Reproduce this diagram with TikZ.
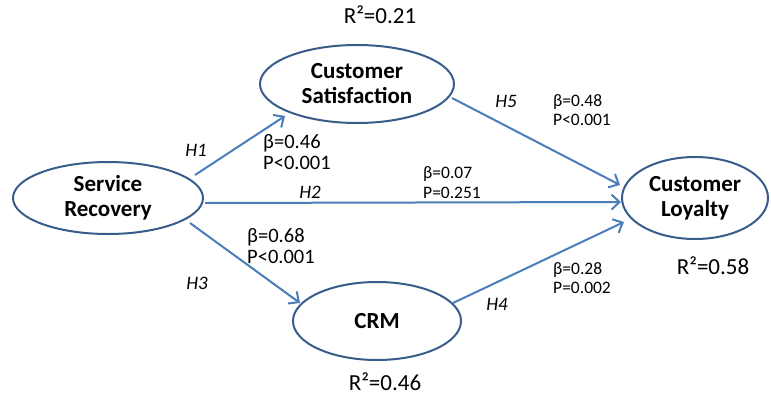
\documentclass[tikz,border=0pt]{standalone}
\usepackage{fontspec}
\setmainfont{Carlito}
\usetikzlibrary{arrows.meta,shapes.geometric}
\definecolor{edgeblue}{RGB}{74,126,187}
\definecolor{ringblue}{RGB}{56,93,138}
\begin{document}
\begin{tikzpicture}[x=1pt,y=-1pt,
  construct/.style={ellipse, draw=ringblue, line width=2pt, align=center, inner sep=0pt,
    font=\fontsize{23}{25}\selectfont\bfseries},
  pathline/.style={draw=edgeblue, line width=2pt, -{Straight Barb[length=8pt,width=15pt]}},
  coefbig/.style={anchor=west, inner sep=0pt, align=left, font=\fontsize{20.5}{21}\selectfont},
  coefsmall/.style={anchor=west, inner sep=0pt, align=left, font=\fontsize{17.5}{19.5}\selectfont},
  hyp/.style={inner sep=0pt, font=\fontsize{19}{21}\selectfont\itshape},
  rsq/.style={inner sep=0pt, font=\fontsize{23}{25}\selectfont}]
\useasboundingbox[fill=white] (0,0) rectangle (771,397);

\node[construct, minimum width=190pt, minimum height=72pt] (sr) at (108,198) {Service\\Recovery};
\node[construct, minimum width=194pt, minimum height=78pt] (cs) at (357,84) {Customer\\Satisfaction};
\node[construct, minimum width=146pt, minimum height=82pt] (cl) at (695,198) {Customer\\Loyalty};
\node[construct, minimum width=168pt, minimum height=78pt] (crm) at (377,321) {CRM};

\draw[pathline] ([shift={(87,-23)}]sr.center) -- ([shift={(-72,32)}]cs.center);
\draw[pathline] ([shift={(97,5)}]sr.center) -- ([shift={(-74,4)}]cl.center);
\draw[pathline] ([shift={(82,25)}]sr.center) -- ([shift={(-77,-18)}]crm.center);
\draw[pathline] ([shift={(95,14)}]cs.center) -- ([shift={(-75,-13)}]cl.center);
\draw[pathline] ([shift={(76,-18)}]crm.center) -- ([shift={(-71,24)}]cl.center);

\node[rsq] (r1) at (380,15) {R²=0.21};
\node[rsq] (r2) at (385,382) {R²=0.46};
\node[rsq] (r3) at (713,266) {R²=0.58};

\node[hyp] (h1) at (196,150) {H1};
\node[hyp] (h2) at (310,192) {H2};
\node[hyp] (h3) at (197,283) {H3};
\node[hyp] (h4) at (497,304) {H4};
\node[hyp] (h5) at (506,101) {H5};

\node[coefbig] (c1) at (263,152.5) {β=0.46\\P<0.001};
\node[coefbig] (c3) at (247,246) {β=0.68\\P<0.001};
\node[coefsmall] (c2) at (423,182.5) {β=0.07\\P=0.251};
\node[coefsmall] (c5) at (553,110) {β=0.48\\P<0.001};
\node[coefsmall] (c4) at (553,278) {β=0.28\\P=0.002};
\end{tikzpicture}
\end{document}
